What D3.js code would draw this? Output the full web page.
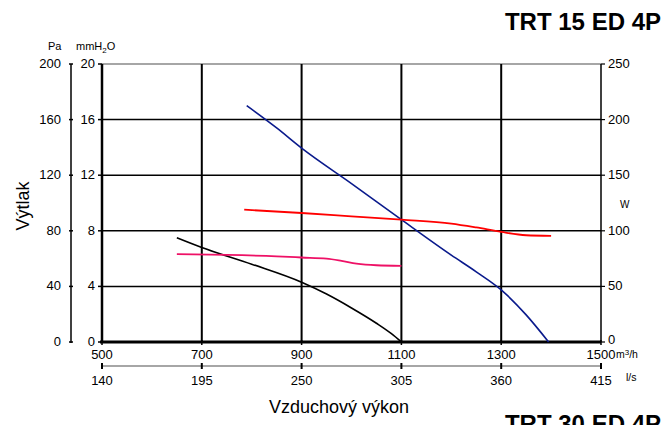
<!DOCTYPE html>
<html><head><meta charset="utf-8">
<script src="https://cdn.jsdelivr.net/npm/d3@7"></script>
<style>
html,body{margin:0;padding:0;background:#fff;}
svg{display:block;font-family:"Liberation Sans",Arial,sans-serif;}
</style></head>
<body><svg id="c" width="666" height="425"></svg>
<script>
const flowTicks = [500, 700, 900, 1100, 1300, 1500];
const lsTicks = [140, 195, 250, 305, 360, 415];
const mmTicks = [0, 4, 8, 12, 16, 20];
const paTicks = [0, 40, 80, 120, 160, 200];
const wTicks = [0, 50, 100, 150, 200, 250];

// pressure curves (mmH2O) vs flow (m3/h)
const blueCurve = [[790,17.0],[850,15.4],[900,13.95],[1000,11.4],[1100,8.8],[1200,6.25],[1250,5.05],[1300,3.75],[1350,1.95],[1395,0]];
const blackCurve = [[650,7.5],[700,6.8],[800,5.6],[900,4.3],[950,3.45],[1000,2.45],[1050,1.35],[1080,0.6],[1100,0]];
// power curves (W) vs flow (m3/h)
const redCurve = [[785,119],[900,116],[1000,113],[1100,110],[1200,106.5],[1250,103],[1300,99],[1350,96],[1400,95.5]];
const pinkCurve = [[650,79],[750,78.3],[850,77],[900,76],[950,75],[980,73],[1010,70.5],[1050,69],[1100,68.5]];

const svg = d3.select("#c");
const L = 102, R = 601, T = 64, B = 342;
const x = d3.scaleLinear().domain([500,1500]).range([L,R]);
const y = d3.scaleLinear().domain([0,20]).range([B,T]);
const yPa = d3.scaleLinear().domain([0,200]).range([B,T]);
const yW = d3.scaleLinear().domain([0,250]).range([B,T]);
const xLs = d3.scaleLinear().domain([140,415]).range([L,R]);

const g = svg.append("g");
g.append("line").attr("x1",L).attr("x2",R).attr("y1",T).attr("y2",T).attr("stroke","#888").attr("stroke-width",1.5);
mmTicks.filter(d=>d>0&&d<20).forEach(d=>{
  g.append("line").attr("x1",L).attr("x2",R).attr("y1",y(d)).attr("y2",y(d)).attr("stroke","#000").attr("stroke-width",1.5);
});
flowTicks.filter(d=>d>500&&d<1500).forEach(d=>{
  g.append("line").attr("x1",x(d)).attr("x2",x(d)).attr("y1",T).attr("y2",B).attr("stroke","#000").attr("stroke-width",2);
});
g.append("line").attr("x1",L).attr("x2",L).attr("y1",T).attr("y2",B).attr("stroke","#000").attr("stroke-width",2.5);
g.append("line").attr("x1",R).attr("x2",R).attr("y1",T).attr("y2",B).attr("stroke","#000").attr("stroke-width",1.5);

const line = (ys) => d3.line().x(d=>x(d[0])).y(d=>ys(d[1])).curve(d3.curveMonotoneX);
svg.append("path").datum(blueCurve).attr("d",line(y)).attr("fill","none").attr("stroke","#0a1a8c").attr("stroke-width",1.6);
svg.append("path").datum(blackCurve).attr("d",line(y)).attr("fill","none").attr("stroke","#000").attr("stroke-width",1.6);
svg.append("path").datum(redCurve).attr("d",line(yW)).attr("fill","none").attr("stroke","#ff0000").attr("stroke-width",1.8);
svg.append("path").datum(pinkCurve).attr("d",line(yW)).attr("fill","none").attr("stroke","#ee1166").attr("stroke-width",1.8);

g.append("line").attr("x1",L-2).attr("x2",R).attr("y1",B).attr("y2",B).attr("stroke","#000").attr("stroke-width",3);

const fs = 13;
mmTicks.forEach(d=>{
  svg.append("line").attr("x1",L-4).attr("x2",L).attr("y1",y(d)).attr("y2",y(d)).attr("stroke","#000").attr("stroke-width",1.5);
  svg.append("text").attr("x",L-7).attr("y",y(d)+4).attr("text-anchor","end").attr("font-size",fs).text(d);
});
const xPa = 71;
svg.append("line").attr("x1",xPa).attr("x2",xPa).attr("y1",yPa(200)).attr("y2",yPa(0)+1).attr("stroke","#000").attr("stroke-width",1.5);
paTicks.forEach(d=>{
  svg.append("line").attr("x1",xPa-2).attr("x2",xPa+2).attr("y1",yPa(d)).attr("y2",yPa(d)).attr("stroke","#000").attr("stroke-width",1.5);
  svg.append("text").attr("x",xPa-10).attr("y",yPa(d)+4).attr("text-anchor","end").attr("font-size",fs).text(d);
});
wTicks.forEach(d=>{
  svg.append("line").attr("x1",R).attr("x2",R+4).attr("y1",yW(d)).attr("y2",yW(d)).attr("stroke","#000").attr("stroke-width",1.2);
  svg.append("text").attr("x",R+7).attr("y",yW(d)+(d===0?2:4)).attr("text-anchor","start").attr("font-size",fs).text(d);
});
flowTicks.forEach(d=>{
  svg.append("line").attr("x1",x(d)).attr("x2",x(d)).attr("y1",B-2).attr("y2",B+3).attr("stroke","#000").attr("stroke-width",1.5);
  svg.append("text").attr("x",x(d)).attr("y",B+17).attr("text-anchor","middle").attr("font-size",fs).text(d);
});
svg.append("line").attr("x1",xLs(140)).attr("x2",xLs(415)).attr("y1",366).attr("y2",366).attr("stroke","#888").attr("stroke-width",1.5);
lsTicks.forEach(d=>{
  svg.append("line").attr("x1",xLs(d)).attr("x2",xLs(d)).attr("y1",363).attr("y2",369).attr("stroke","#000").attr("stroke-width",2);
  svg.append("text").attr("x",xLs(d)).attr("y",385).attr("text-anchor","middle").attr("font-size",fs).text(d);
});
const u = svg.append("text").attr("x",616).attr("y",358).attr("font-size",10.5);
u.append("tspan").text("m");
u.append("tspan").attr("font-size",8).attr("dy",-3).text("3");
u.append("tspan").attr("dy",3).text("/h");
svg.append("text").attr("x",626).attr("y",381).attr("font-size",10.5).text("l/s");
svg.append("text").attr("x",620).attr("y",208).attr("font-size",10).text("W");
svg.append("text").attr("x",48).attr("y",50).attr("font-size",11).text("Pa");
const mm = svg.append("text").attr("x",76).attr("y",50).attr("font-size",11);
mm.append("tspan").text("mmH");
mm.append("tspan").attr("font-size",8).attr("dy",3).text("2");
mm.append("tspan").attr("dy",-3).text("O");

svg.append("text").attr("x",29).attr("y",206).attr("transform","rotate(-90,29,206)").attr("text-anchor","middle").attr("font-size",18).text("Výtlak");
svg.append("text").attr("x",339).attr("y",413).attr("text-anchor","middle").attr("font-size",18).text("Vzduchový výkon");
svg.append("text").attr("x",661).attr("y",30).attr("text-anchor","end").attr("font-size",24).attr("font-weight","bold").text("TRT 15 ED 4P");
svg.append("text").attr("x",661).attr("y",432).attr("text-anchor","end").attr("font-size",24).attr("font-weight","bold").text("TRT 30 ED 4P");
</script></body></html>
